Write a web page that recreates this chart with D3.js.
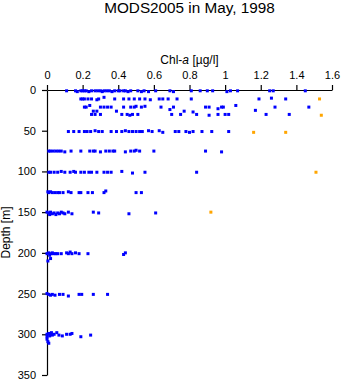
<!DOCTYPE html>
<html>
<head>
<meta charset="utf-8">
<script src="https://cdn.jsdelivr.net/npm/d3@7"></script>
<style>
  body { margin: 0; background: #fff; }
  text { font-family: "Liberation Sans", Arial, sans-serif; }
</style>
</head>
<body>
<div id="chart"></div>
<script>
// chl-a [ug/l], depth [m] pairs, grouped by sampling depth
const row0 = [[0.11,1],[0.16,1],[0.17,2],[0.19,1],[0.2,1],[0.21,1],[0.22,1],[0.235,2],[0.25,1],[0.27,1],[0.285,1],[0.3,1],[0.31,2],[0.32,1],[0.335,1],[0.35,1],[0.365,2],[0.38,1],[0.4,1],[0.41,1],[0.43,1],[0.44,1],[0.455,2],[0.47,1],[0.51,1],[0.53,2],[0.545,1],[0.57,2],[0.61,1],[0.69,1],[0.71,2],[0.81,1],[0.86,1],[0.9,1],[0.93,1],[1.01,2],[1.03,1],[1.07,1],[1.25,1],[1.27,1],[1.45,1]];
const row10 = [[0.19,11],[0.2,11],[0.21,11],[0.23,11],[0.25,11],[0.28,12],[0.29,11],[0.32,9],[0.38,11],[0.43,11],[0.46,11],[0.49,11],[0.52,11],[0.55,11],[0.58,12],[0.63,11],[0.65,11],[0.68,11],[0.73,11],[0.81,11],[1.19,11],[1.26,10],[1.34,11]];
const row20 = [[0.21,21],[0.22,21],[0.24,19],[0.3,21],[0.32,21],[0.34,21],[0.36,21],[0.43,21],[0.47,21],[0.49,21],[0.5,20],[0.53,21],[0.55,20],[0.64,21],[0.69,24],[0.71,21],[0.77,26],[0.82,27],[0.89,21],[0.91,21],[0.96,23],[0.98,21],[0.99,21],[1.06,19],[1.17,25],[1.23,30],[1.28,21],[1.47,21]];
const row30 = [[0.25,30],[0.26,26],[0.27,30],[0.28,26],[0.3,30],[0.39,26],[0.42,30],[0.45,30],[0.465,31],[0.48,30],[0.51,30],[0.7,30],[0.75,30],[0.84,30],[0.91,31],[0.96,30],[1.0,30],[1.02,30],[1.36,30]];
const row50 = [[0.12,51],[0.15,51],[0.18,51],[0.21,51],[0.225,51],[0.245,51],[0.27,50],[0.29,51],[0.31,51],[0.36,51],[0.39,51],[0.42,51],[0.44,50],[0.46,51],[0.48,51],[0.5,51],[0.52,51],[0.535,51],[0.57,50],[0.59,51],[0.63,50],[0.65,52],[0.72,51],[0.74,51],[0.78,51],[0.8,52],[0.82,51],[0.87,51],[0.925,51],[1.02,51]];
const row75 = [[0.01,75],[0.02,75],[0.035,75],[0.05,75],[0.065,75],[0.08,75],[0.1,76],[0.135,75],[0.19,75],[0.24,75],[0.26,75],[0.27,75],[0.3,76],[0.33,75],[0.35,75],[0.37,75],[0.38,75],[0.44,76],[0.47,75],[0.49,75],[0.5,74],[0.52,75],[0.6,75],[0.89,75],[0.98,76]];
const row100 = [[0.01,101],[0.02,101],[0.04,101],[0.06,101],[0.08,100],[0.1,101],[0.13,101],[0.15,100],[0.16,101],[0.19,101],[0.21,101],[0.235,101],[0.25,101],[0.28,101],[0.32,101],[0.34,101],[0.36,101],[0.42,100],[0.48,102],[0.55,101],[0.84,101]];
const row125 = [[0.005,125],[0.01,126],[0.02,125],[0.03,126],[0.045,126],[0.06,126],[0.07,126],[0.09,126],[0.12,125],[0.135,126],[0.18,126],[0.19,126],[0.23,126],[0.255,126],[0.32,126],[0.33,124],[0.5,126],[0.53,126]];
const row150 = [[0.0,150],[0.01,151],[0.015,153],[0.02,150],[0.03,152],[0.04,151],[0.05,153],[0.06,151],[0.07,152],[0.08,150],[0.09,151],[0.1,152],[0.12,150],[0.14,152],[0.26,150],[0.29,151],[0.46,152],[0.61,151]];
const row200 = [[0.0,201],[0.005,210],[0.01,200],[0.015,203],[0.02,207],[0.025,201],[0.03,200],[0.04,201],[0.05,201],[0.06,201],[0.08,201],[0.11,200],[0.12,201],[0.13,199],[0.14,201],[0.16,200],[0.18,201],[0.23,201],[0.43,202],[0.44,200]];
const row250 = [[0.0,250],[0.01,251],[0.02,252],[0.03,251],[0.045,252],[0.07,251],[0.09,251],[0.12,253],[0.18,251],[0.195,251],[0.26,251],[0.34,251]];
const row300 = [[0.0,300],[0.0,303],[0.0,306],[0.005,309],[0.01,311],[0.01,299],[0.015,302],[0.02,300],[0.025,298],[0.03,301],[0.04,300],[0.055,298],[0.067,301],[0.086,302],[0.11,300],[0.13,300],[0.14,299],[0.19,303],[0.245,301]];
// highlighted samples (orange)
const orangePts = [[1.53,11],[1.54,31],[1.16,52],[1.34,52],[1.51,101],[0.92,150]];

const xTicks = [0, 0.2, 0.4, 0.6, 0.8, 1, 1.2, 1.4, 1.6];
const yTicks = [0, 50, 100, 150, 200, 250, 300, 350];

const bluePts = [].concat(row0, row10, row20, row30, row50, row75, row100, row125, row150, row200, row250, row300);

const width = 343, height = 384;
const margin = { top: 90, right: 11, bottom: 9, left: 47 };

const svg = d3.select('#chart')
  .append('svg')
  .attr('width', width)
  .attr('height', height);

svg.append('rect').attr('width', width).attr('height', height).attr('fill', '#fff');

const x = d3.scaleLinear()
  .domain([0, 1.6])
  .range([margin.left, width - margin.right]);

const y = d3.scaleLinear()
  .domain([0, 350])
  .range([margin.top, height - margin.bottom]);

// axes
const xAxis = svg.append('g')
  .attr('transform', `translate(0,${margin.top})`)
  .call(d3.axisTop(x).tickValues(xTicks).tickFormat(d3.format('~g')).tickSize(5).tickSizeOuter(0).tickPadding(6));

const yAxis = svg.append('g')
  .attr('transform', `translate(${margin.left},0)`)
  .call(d3.axisLeft(y).tickValues(yTicks).tickSize(5).tickSizeOuter(0).tickPadding(6));

[xAxis, yAxis].forEach(function(g) {
  g.selectAll('text').attr('fill', '#000').style('font-size', '11px').style('font-family', '"Liberation Sans", Arial, sans-serif');
  g.selectAll('line, path').attr('stroke', '#000').attr('stroke-width', 1.2);
});

// titles
svg.append('text')
  .attr('x', (margin.left + width - margin.right) / 2)
  .attr('y', 13)
  .attr('text-anchor', 'middle')
  .style('font-size', '15.3px')
  .text('MODS2005 in May, 1998');

const xl = svg.append('text')
  .attr('x', (margin.left + width - margin.right) / 2)
  .attr('y', 64)
  .attr('text-anchor', 'middle')
  .style('font-size', '12px');
xl.append('tspan').text('Chl-');
xl.append('tspan').style('font-style', 'italic').text('a');
xl.append('tspan').text(' [µg/l]');

svg.append('text')
  .attr('transform', `translate(10,${(margin.top + height - margin.bottom) / 2}) rotate(-90)`)
  .attr('text-anchor', 'middle')
  .style('font-size', '12px')
  .text('Depth [m]');

// points
svg.append('g').selectAll('rect')
  .data(bluePts)
  .enter()
  .append('rect')
    .attr('x', function(d) { return x(d[0]) - 1.5; })
    .attr('y', function(d) { return y(d[1]) - 1.5; })
    .attr('width', 3)
    .attr('height', 3)
    .attr('fill', '#0000ff');

svg.append('g').selectAll('rect')
  .data(orangePts)
  .enter()
  .append('rect')
    .attr('x', function(d) { return x(d[0]) - 1.5; })
    .attr('y', function(d) { return y(d[1]) - 1.5; })
    .attr('width', 3)
    .attr('height', 3)
    .attr('fill', '#ffa500');
</script>
</body>
</html>
